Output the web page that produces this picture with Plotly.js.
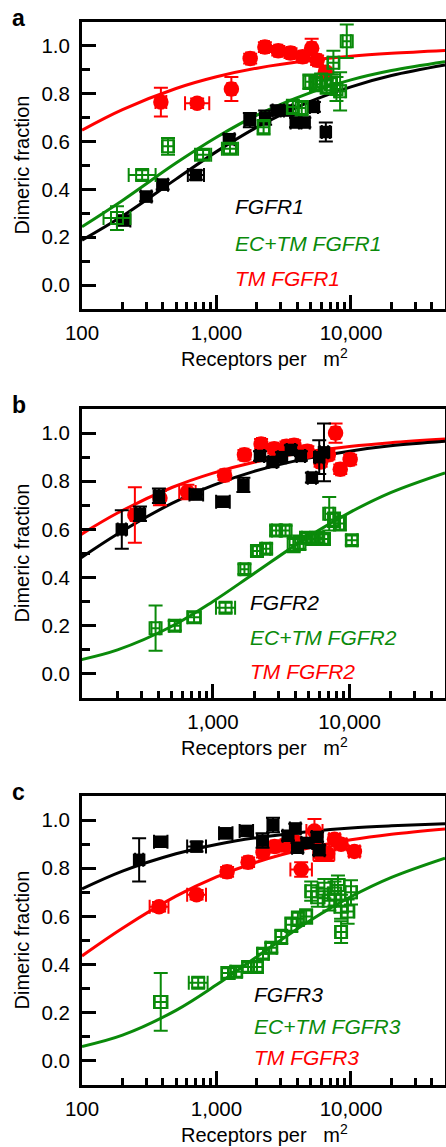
<!DOCTYPE html>
<html><head><meta charset="utf-8">
<script src="https://cdn.plot.ly/plotly-3.0.1.min.js"></script>
<style>html,body{margin:0;padding:0;background:#fff}</style>
</head><body><div id="chart" style="width:446px;height:1147px"></div>
<script>
// ---------- data ----------
const fitX = [100, 200, 500, 1000, 2000, 5000, 10000, 20000, 50000];

// Panel a : FGFR1
const a_fit_wt  = [0.188, 0.289, 0.443, 0.558, 0.660, 0.768, 0.829, 0.876, 0.920];
const a_fit_ec  = [0.244, 0.354, 0.510, 0.618, 0.711, 0.805, 0.858, 0.897, 0.934];
const a_fit_tm  = [0.648, 0.734, 0.822, 0.871, 0.907, 0.940, 0.957, 0.969, 0.981];

const a_wt_x  = [204, 300, 398, 703, 1242, 1770, 2300, 2800, 3400, 3900, 4500, 5300, 6500];
const a_wt_y  = [0.27, 0.37, 0.42, 0.46, 0.61, 0.69, 0.70, 0.73, 0.73, 0.68, 0.68, 0.745, 0.64];
const a_wt_ex = [0.05, 0.04, 0.04, 0.06, 0.04, 0.04, 0.03, 0.03, 0.03, 0.04, 0.04, 0.03, 0.03];
const a_wt_ey = [0.02, 0.02, 0.02, 0.02, 0.02, 0.03, 0.03, 0.02, 0.02, 0.02, 0.02, 0.02, 0.04];

const a_ec_x  = [182, 280, 436, 795, 1260, 2240, 3700, 4300, 4900, 5500, 6000, 6600, 7100, 7800, 8300, 7400, 9300];
const a_ec_y  = [0.28, 0.46, 0.58, 0.545, 0.57, 0.66, 0.745, 0.74, 0.85, 0.84, 0.855, 0.83, 0.84, 0.82, 0.81, 0.93, 1.02];
const a_ec_ex = [0.10, 0.10, 0.04, 0.06, 0.06, 0.04, 0.04, 0.03, 0.03, 0.03, 0.03, 0.03, 0.04, 0.03, 0.04, 0.04, 0.03];
const a_ec_ey = [0.05, 0.02, 0.035, 0.02, 0.02, 0.03, 0.03, 0.03, 0.03, 0.03, 0.03, 0.03, 0.04, 0.05, 0.08, 0.05, 0.07];

const a_tm_x  = [386, 718, 1290, 1780, 2290, 2880, 3550, 4370, 5100, 5600, 6450];
const a_tm_y  = [0.765, 0.76, 0.82, 0.947, 0.995, 0.98, 0.97, 0.955, 0.99, 0.94, 0.89];
const a_tm_ex = [0.04, 0.09, 0.03, 0.03, 0.03, 0.03, 0.03, 0.03, 0.03, 0.03, 0.03];
const a_tm_ey = [0.06, 0.02, 0.05, 0.02, 0.02, 0.02, 0.02, 0.02, 0.04, 0.02, 0.02];

// Panel b : FGFR2
const b_fit_wt  = [0.469, 0.581, 0.708, 0.783, 0.841, 0.896, 0.925, 0.947, 0.966];
const b_fit_ec  = [0.055, 0.100, 0.198, 0.301, 0.417, 0.570, 0.670, 0.753, 0.835];
const b_fit_tm  = [0.567, 0.668, 0.774, 0.834, 0.879, 0.922, 0.944, 0.960, 0.975];

const b_wt_x  = [215, 292, 402, 755, 1183, 1670, 2210, 2730, 3200, 3720, 4400, 5300, 6000, 6500];
const b_wt_y  = [0.60, 0.665, 0.74, 0.745, 0.715, 0.785, 0.905, 0.88, 0.90, 0.93, 0.905, 0.815, 0.90, 0.92];
const b_wt_ex = [0.03, 0.03, 0.03, 0.05, 0.05, 0.03, 0.03, 0.03, 0.03, 0.03, 0.03, 0.03, 0.03, 0.03];
const b_wt_ey = [0.08, 0.03, 0.03, 0.02, 0.02, 0.03, 0.02, 0.02, 0.02, 0.02, 0.02, 0.02, 0.07, 0.12];

const b_ec_x  = [380, 525, 727, 1236, 1700, 2100, 2450, 2900, 3400, 3900, 4300, 4800, 5300, 5900, 6500, 7100, 7700, 8500, 10400];
const b_ec_y  = [0.19, 0.20, 0.235, 0.275, 0.435, 0.51, 0.52, 0.595, 0.595, 0.535, 0.545, 0.565, 0.56, 0.565, 0.56, 0.665, 0.64, 0.625, 0.555];
const b_ec_ex = [0.03, 0.04, 0.05, 0.07, 0.03, 0.03, 0.03, 0.03, 0.03, 0.03, 0.03, 0.03, 0.03, 0.03, 0.03, 0.03, 0.03, 0.03, 0.04];
const b_ec_ey = [0.094, 0.02, 0.02, 0.02, 0.02, 0.02, 0.02, 0.02, 0.02, 0.03, 0.03, 0.02, 0.02, 0.02, 0.02, 0.07, 0.03, 0.03, 0.02];

const b_tm_x  = [268, 409, 650, 1216, 1700, 2250, 2810, 3450, 3930, 4910, 6140, 7000, 7900, 8550, 10100];
const b_tm_y  = [0.66, 0.73, 0.755, 0.825, 0.91, 0.955, 0.935, 0.945, 0.95, 0.925, 0.88, 0.91, 1.0, 0.85, 0.89];
const b_tm_ex = [0.03, 0.03, 0.06, 0.03, 0.03, 0.03, 0.03, 0.03, 0.03, 0.03, 0.03, 0.03, 0.03, 0.03, 0.03];
const b_tm_ey = [0.115, 0.03, 0.03, 0.02, 0.02, 0.02, 0.02, 0.02, 0.02, 0.02, 0.02, 0.02, 0.04, 0.02, 0.02];

// Panel c : FGFR3
const c_fit_wt  = [0.714, 0.788, 0.860, 0.899, 0.927, 0.953, 0.967, 0.976, 0.985];
const c_fit_ec  = [0.060, 0.107, 0.210, 0.316, 0.433, 0.584, 0.682, 0.762, 0.842];
const c_fit_tm  = [0.436, 0.551, 0.684, 0.764, 0.826, 0.886, 0.918, 0.941, 0.963];

const c_wt_x  = [266, 385, 711, 1172, 1667, 2200, 2630, 3400, 3850, 4000, 4700, 5600, 5800];
const c_wt_y  = [0.835, 0.91, 0.89, 0.945, 0.955, 0.915, 0.98, 0.935, 0.965, 0.885, 0.905, 0.93, 0.875];
const c_wt_ex = [0.03, 0.05, 0.07, 0.05, 0.05, 0.04, 0.04, 0.04, 0.04, 0.04, 0.04, 0.04, 0.04];
const c_wt_ey = [0.09, 0.02, 0.02, 0.02, 0.02, 0.03, 0.03, 0.02, 0.02, 0.02, 0.02, 0.02, 0.02];

const c_ec_x  = [385, 731, 1218, 1400, 1718, 2000, 2217, 2555, 3030, 3600, 4030, 4640, 5060, 5670, 6340, 6910, 7540, 8000, 8440, 8440, 9440, 10000];
const c_ec_y  = [0.245, 0.325, 0.365, 0.37, 0.39, 0.39, 0.445, 0.47, 0.515, 0.565, 0.59, 0.60, 0.705, 0.68, 0.715, 0.665, 0.695, 0.73, 0.64, 0.535, 0.62, 0.70];
const c_ec_ex = [0.05, 0.07, 0.05, 0.04, 0.04, 0.04, 0.04, 0.04, 0.04, 0.04, 0.04, 0.04, 0.04, 0.05, 0.05, 0.05, 0.05, 0.05, 0.05, 0.04, 0.05, 0.04];
const c_ec_ey = [0.12, 0.02, 0.02, 0.02, 0.02, 0.02, 0.02, 0.02, 0.03, 0.03, 0.03, 0.03, 0.04, 0.04, 0.04, 0.04, 0.05, 0.04, 0.05, 0.045, 0.05, 0.05];

const c_tm_x  = [374, 711, 1199, 1718, 2217, 2706, 3210, 3800, 4260, 5350, 5900, 6700, 7540, 8440, 10600];
const c_tm_y  = [0.64, 0.69, 0.785, 0.825, 0.865, 0.89, 0.895, 0.91, 0.795, 0.955, 0.86, 0.86, 0.92, 0.90, 0.87];
const c_tm_ex = [0.07, 0.07, 0.03, 0.03, 0.03, 0.03, 0.03, 0.03, 0.08, 0.06, 0.05, 0.05, 0.04, 0.04, 0.04];
const c_tm_ey = [0.02, 0.02, 0.02, 0.02, 0.02, 0.02, 0.02, 0.02, 0.03, 0.05, 0.03, 0.03, 0.02, 0.02, 0.02];

const xTickVals = [100, 1000, 10000];
const xTickText = ['100', '1,000', '10,000'];
const xMinorVals = [200,300,400,500,600,700,800,900,2000,3000,4000,5000,6000,7000,8000,9000,20000,30000,40000];
const panelLetters = ['a', 'b', 'c'];
const legendWT = ['FGFR1', 'FGFR2', 'FGFR3'];
const legendEC = ['EC+TM FGFR1', 'EC+TM FGFR2', 'EC+TM FGFR3'];
const legendTM = ['TM FGFR1', 'TM FGFR2', 'TM FGFR3'];

// ---------- styling ----------
const W = 446, H = 1147;
const BLACK = '#000000', GREEN = '#0a8a0a', RED = '#ff0000';
const FONT = 'Liberation Sans, Arial, Helvetica, sans-serif';
const fx = p => p / W;
const fy = p => 1 - p / H;

function errX(x, e, color) {
  return {type: 'data', symmetric: false,
    array: x.map((v, i) => v * (Math.pow(10, e[i]) - 1)),
    arrayminus: x.map((v, i) => v * (1 - Math.pow(10, -e[i]))),
    color: color, thickness: 2, width: 7};
}
function errY(e, color) {
  return {type: 'data', array: e, color: color, thickness: 2, width: 7};
}
function fitTrace(y, color, k) {
  return {x: fitX, y: y, mode: 'lines', line: {color: color, width: 3, shape: 'spline'},
    xaxis: 'x' + (k === 1 ? '' : k), yaxis: 'y' + (k === 1 ? '' : k), hoverinfo: 'skip'};
}
function ptTrace(x, y, ex, ey, color, kind, k) {
  let marker;
  if (kind === 'wt') marker = {symbol: 'square', size: 12.5, color: color};
  else if (kind === 'tm') marker = {symbol: 'circle', size: 15.5, color: color};
  else marker = {symbol: 'square-open', size: 12, color: color, line: {width: 2, color: color}};
  return {x: x, y: y, mode: 'markers', marker: marker,
    error_x: errX(x, ex, color), error_y: errY(ey, color),
    xaxis: 'x' + (k === 1 ? '' : k), yaxis: 'y' + (k === 1 ? '' : k)};
}

const traces = [
  fitTrace(a_fit_tm, RED, 1), fitTrace(a_fit_ec, GREEN, 1), fitTrace(a_fit_wt, BLACK, 1),
  ptTrace(a_tm_x, a_tm_y, a_tm_ex, a_tm_ey, RED, 'tm', 1),
  ptTrace(a_wt_x, a_wt_y, a_wt_ex, a_wt_ey, BLACK, 'wt', 1),
  ptTrace(a_ec_x, a_ec_y, a_ec_ex, a_ec_ey, GREEN, 'ec', 1),

  fitTrace(b_fit_tm, RED, 2), fitTrace(b_fit_ec, GREEN, 2), fitTrace(b_fit_wt, BLACK, 2),
  ptTrace(b_tm_x, b_tm_y, b_tm_ex, b_tm_ey, RED, 'tm', 2),
  ptTrace(b_wt_x, b_wt_y, b_wt_ex, b_wt_ey, BLACK, 'wt', 2),
  ptTrace(b_ec_x, b_ec_y, b_ec_ex, b_ec_ey, GREEN, 'ec', 2),

  fitTrace(c_fit_tm, RED, 3), fitTrace(c_fit_ec, GREEN, 3), fitTrace(c_fit_wt, BLACK, 3),
  ptTrace(c_tm_x, c_tm_y, c_tm_ex, c_tm_ey, RED, 'tm', 3),
  ptTrace(c_wt_x, c_wt_y, c_wt_ex, c_wt_ey, BLACK, 'wt', 3),
  ptTrace(c_ec_x, c_ec_y, c_ec_ex, c_ec_ey, GREEN, 'ec', 3)
];

// panel pixel frames: [top, bottom], x-range start (log10)
const frames = [[22, 309, 2.0], [409, 698, 2.041], [796, 1085, 2.0]];
const legendPos = [[233, 207, 243, 278], [248, 602, 637, 671], [252, 995, 1026, 1057]];

const layout = {
  width: W, height: H, margin: {l: 0, r: 0, t: 0, b: 0},
  paper_bgcolor: '#fff', plot_bgcolor: '#fff', showlegend: false,
  font: {family: FONT, size: 20, color: '#000'},
  annotations: []
};

frames.forEach((f, i) => {
  const k = i + 1, sfx = k === 1 ? '' : k;
  layout['xaxis' + sfx] = {
    type: 'log', range: [f[2], 4.699], domain: [fx(82), fx(445)],
    anchor: 'y' + sfx, showgrid: false, zeroline: false,
    showline: true, mirror: true, linecolor: '#000', linewidth: 3,
    ticks: 'inside', ticklen: 14, tickwidth: 3, tickcolor: '#000',
    tickmode: 'array', tickvals: xTickVals, ticktext: xTickText,
    tickfont: {family: FONT, size: 20.5}, ticklabelstandoff: 3,
    minor: {tickmode: 'array', tickvals: xMinorVals, ticks: 'inside', ticklen: 7, tickwidth: 3, tickcolor: '#000', showgrid: false}
  };
  layout['yaxis' + sfx] = {
    range: [-0.1, 1.1], domain: [fy(f[1]), fy(f[0])],
    anchor: 'x' + sfx, showgrid: false, zeroline: false,
    showline: true, mirror: true, linecolor: '#000', linewidth: 3,
    ticks: 'inside', ticklen: 14, tickwidth: 3, tickcolor: '#000',
    tick0: 0, dtick: 0.2, tickformat: '.1f',
    tickfont: {family: FONT, size: 20.5}, ticklabelstandoff: 5,
    minor: {dtick: 0.1, ticks: 'inside', ticklen: 8, tickwidth: 3, tickcolor: '#000', showgrid: false}
  };
  const ann = layout.annotations;
  ann.push({xref: 'paper', yref: 'paper', x: fx(10), y: fy(f[0] - 4), text: '<b>' + panelLetters[i] + '</b>',
    showarrow: false, xanchor: 'left', yanchor: 'middle', font: {family: FONT, size: 23, color: '#000'}});
  ann.push({xref: 'paper', yref: 'paper', x: fx(21), y: fy((f[0] + f[1]) / 2), text: 'Dimeric fraction',
    textangle: -90, showarrow: false, xanchor: 'center', yanchor: 'middle', font: {family: FONT, size: 20, color: '#000'}});
  ann.push({xref: 'paper', yref: 'paper', x: fx(264), y: fy(f[1] + 48), text: 'Receptors per \u00a0\u00a0m<sup>2</sup>',
    showarrow: false, xanchor: 'center', yanchor: 'middle', font: {family: FONT, size: 20, color: '#000'}});
  const lp = legendPos[i];
  [[legendWT[i], BLACK, lp[1]], [legendEC[i], GREEN, lp[2]], [legendTM[i], RED, lp[3]]].forEach(t => {
    ann.push({xref: 'paper', yref: 'paper', x: fx(lp[0]), y: fy(t[2]), text: '<i>' + t[0] + '</i>',
      showarrow: false, xanchor: 'left', yanchor: 'middle', font: {family: FONT, size: 21, color: t[1]}});
  });
});

Plotly.newPlot('chart', traces, layout, {displayModeBar: false, staticPlot: true});
</script>
</body></html>
